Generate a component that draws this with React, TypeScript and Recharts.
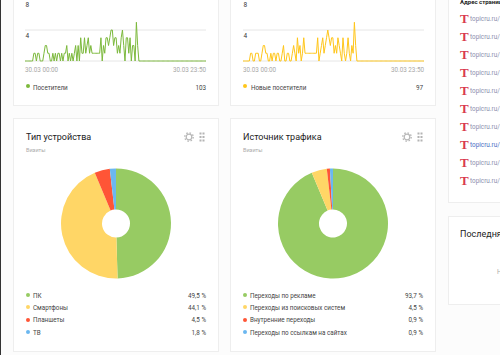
import { CartesianGrid, Cell, Line, LineChart, Pie, PieChart, XAxis, YAxis } from "recharts"

const visitors = [
  0, 0, 0, 0, 0, 0, 0, 1, 1, 0, 1, 1, 0, 0, 0, 1, 2, 2, 1, 1, 0, 0, 1, 0,
  1, 0, 1, 1, 0, 1, 0, 1, 1, 2, 0, 1, 0, 1, 0, 1, 2, 0, 2, 0, 3, 1, 1, 3,
  1, 2, 3, 1, 2, 1, 1, 1, 1, 1, 1, 1, 3, 0, 2, 1, 3, 3, 2, 3, 4, 4, 2, 3,
  3, 1, 2, 1, 3, 4, 2, 0, 3, 3, 1, 3, 0, 2, 2, 0, 5, 2, 0, 0, 0, 0, 0, 0,
  0, 0, 0, 0, 0, 0, 0, 0, 0, 0, 0, 0, 0, 0, 0, 0, 0, 0, 0, 0, 0, 0, 0, 0,
  0, 0, 0, 0, 0, 0, 0, 0, 0, 0, 0, 0, 0, 0, 0, 0, 0, 0, 0, 0, 0, 0, 0, 0,
]
const newVisitors = [
  0, 0, 0, 0, 0, 0, 1, 1, 0, 0, 1, 1, 1, 0, 0, 1, 2, 2, 1, 1, 0, 0, 1, 0,
  1, 1, 0, 1, 1, 0, 0, 1, 2, 0, 0, 1, 1, 0, 0, 1, 2, 1, 0, 3, 1, 2, 0, 1,
  3, 1, 1, 1, 1, 1, 1, 1, 1, 1, 1, 3, 0, 1, 2, 3, 1, 2, 3, 4, 3, 2, 3, 3,
  1, 2, 1, 3, 2, 1, 0, 3, 1, 0, 1, 3, 1, 0, 2, 1, 5, 2, 0, 0, 0, 0, 0, 0,
  0, 0, 0, 0, 0, 0, 0, 0, 0, 0, 0, 0, 0, 0, 0, 0, 0, 0, 0, 0, 0, 0, 0, 0,
  0, 0, 0, 0, 0, 0, 0, 0, 0, 0, 0, 0, 0, 0, 0, 0, 0, 0, 0, 0, 0, 0, 0, 0,
]
const timeLabels = ["30.03 00:00", "30.03 23:50"]
const yTicks = [0, 4, 8]

const deviceNames = ["ПК", "Смартфоны", "Планшеты", "ТВ"]
const deviceValues = [49.5, 44.1, 4.5, 1.8]
const deviceLabels = ["49,5 %", "44,1 %", "4,5 %", "1,8 %"]

const sourceNames = ["Переходы по рекламе", "Переходы из поисковых систем", "Внутренние переходы", "Переходы по ссылкам на сайтах"]
const sourceValues = [93.7, 4.5, 0.9, 0.9]
const sourceLabels = ["93,7 %", "4,5 %", "0,9 %", "0,9 %"]

const pieColors = ["#97cb63", "#ffd666", "#ff5536", "#6bb7f0"]
const pageRows = [0, 1, 2, 3, 4, 5, 6, 7, 8, 9]

const font = "Roboto, sans-serif"

const Card = ({ left, top, width, height }: { left: number; top: number; width: number; height: number }) => (
  <div
    style={{
      position: "absolute",
      left,
      top,
      width,
      height,
      boxSizing: "border-box",
      background: "#fff",
      border: "1px solid #eeeeee",
    }}
  />
)

const Label = ({ left, top, size, color, children, right, weight }: any) => (
  <div
    style={{
      position: "absolute",
      left,
      right,
      top,
      fontFamily: font,
      fontSize: size,
      fontWeight: weight,
      color,
      lineHeight: "12px",
      whiteSpace: "nowrap",
    }}
  >
    {children}
  </div>
)

const Dot = ({ left, top, color }: { left: number; top: number; color: string }) => (
  <div style={{ position: "absolute", left, top, width: 4, height: 4, borderRadius: 2, background: color }} />
)

const YTick = ({ x, y, payload }: any) =>
  payload.value === 0 ? null : (
    <text x={x + 0.5} y={y + 7.5} fontFamily={font} fontSize={6.5} fill="#333">
      {payload.value}
    </text>
  )

const XTick = ({ x, y, payload, index }: any) => (
  <text x={x} y={y + 3} textAnchor={index === 0 ? "start" : "end"} fontFamily={font} fontSize={6.3} fill="#a8a8a8">
    {timeLabels[payload.value === 0 ? 0 : 1]}
  </text>
)

const Trend = ({ left, values, color }: { left: number; values: number[]; color: string }) => {
  const rows = values.map((value, slot) => ({ slot, value }))
  return (
    <div style={{ position: "absolute", left, top: -6 }}>
      <LineChart width={195} height={85} data={rows} margin={{ top: 5, right: 9, bottom: 0, left: 4 }}>
        <CartesianGrid vertical={false} stroke="#e6e6e6" />
        <XAxis
          dataKey="slot"
          type="number"
          domain={[0, 143]}
          ticks={[0, 143]}
          interval={0}
          height={18}
          axisLine={false}
          tickLine={false}
          tick={<XTick />}
        />
        <YAxis
          domain={[0, 8]}
          ticks={yTicks}
          interval={0}
          width={1}
          axisLine={false}
          tickLine={false}
          tickSize={0}
          tickMargin={0}
          tick={<YTick />}
        />
        <Line dataKey="value" stroke={color} strokeWidth={1} dot={false} isAnimationActive={false} />
      </LineChart>
    </div>
  )
}

const Donut = ({ left, values }: { left: number; values: number[] }) => {
  const rows = values.map((value, i) => ({ value, name: i }))
  return (
    <div style={{ position: "absolute", left, top: 163 }}>
      <PieChart width={120} height={120} margin={{ top: 0, right: 0, bottom: 0, left: 0 }}>
        <Pie
          data={rows}
          dataKey="value"
          cx={60}
          cy={60.5}
          innerRadius={14}
          outerRadius={55}
          startAngle={90}
          endAngle={-270}
          stroke="none"
          isAnimationActive={false}
        >
          {rows.map((row) => (
            <Cell key={row.name} fill={pieColors[row.name]} />
          ))}
        </Pie>
      </PieChart>
    </div>
  )
}

const Icons = ({ left }: { left: number }) => (
  <svg style={{ position: "absolute", left, top: 132 }} width={24} height={10}>
    <circle cx={5} cy={5} r={2.8} fill="none" stroke="#b8b8b8" strokeWidth={1.2} />
    <circle cx={5} cy={5} r={4.2} fill="none" stroke="#b8b8b8" strokeWidth={1.4} strokeDasharray="1.5 1.8" />
    {[1.5, 5, 8.5].map((y) => (
      <g key={y}>
        <rect x={15.5} y={y - 1} width={2} height={2} fill="#b4b4b4" />
        <rect x={18.5} y={y - 1} width={2} height={2} fill="#b4b4b4" />
      </g>
    ))}
  </svg>
)

const Legend = ({ left, names, labels }: { left: number; names: string[]; labels: string[] }) => (
  <>
    {names.map((name, i) => (
      <div key={name}>
        <Dot left={left} top={293 + i * 12.4} color={pieColors[i]} />
        <Label left={left + 7} top={289.5 + i * 12.4} size={6.3} color="#444">
          {name}
        </Label>
        <Label right={500 - (left + 180)} top={289.5 + i * 12.4} size={6.3} color="#444">
          {labels[i]}
        </Label>
      </div>
    ))}
  </>
)

export default function App() {
  return (
    <div
      style={{
        position: "absolute",
        left: 0,
        top: 0,
        width: 500,
        height: 355,
        overflow: "hidden",
        background: "#fcfcfc",
      }}
    >
      <div style={{ position: "absolute", left: 0, top: 0, width: 1, height: 355, background: "#333" }} />

      <Card left={13} top={-20} width={206} height={126} />
      <Card left={230} top={-20} width={206} height={126} />
      <Card left={13} top={118} width={206} height={234} />
      <Card left={230} top={118} width={206} height={234} />
      <Card left={448} top={-20} width={80} height={223} />
      <Card left={448} top={216} width={80} height={89} />

      <Trend left={20} values={visitors} color="#7cb93c" />
      <Trend left={238} values={newVisitors} color="#ffc61a" />

      <Dot left={26} top={84} color="#7cb93c" />
      <Label left={33} top={81.5} size={6.3} color="#444">Посетители</Label>
      <Label right={294} top={81.5} size={6.3} color="#444">103</Label>

      <Dot left={243} top={84} color="#ffc61a" />
      <Label left={251} top={81.5} size={6.3} color="#444">Новые посетители</Label>
      <Label right={77} top={81.5} size={6.3} color="#444">97</Label>

      <Label left={26} top={131} size={9} color="#222">Тип устройства</Label>
      <Label left={26} top={144} size={5.5} color="#aaa">Визиты</Label>
      <Label left={243} top={131} size={9} color="#222">Источник трафика</Label>
      <Label left={243} top={144} size={5.5} color="#aaa">Визиты</Label>
      <Icons left={184} />
      <Icons left={402} />

      <Donut left={56} values={deviceValues} />
      <Donut left={273} values={sourceValues} />

      <Legend left={26} names={deviceNames} labels={deviceLabels} />
      <Legend left={243} names={sourceNames} labels={sourceLabels} />

      <Label left={460} top={-4} size={6} weight={700} color="#222">Адрес страницы</Label>
      {pageRows.map((row) => (
        <div key={row}>
          <div
            style={{
              position: "absolute",
              left: 460,
              top: 12 + row * 18,
              fontFamily: "'Liberation Serif', serif",
              fontWeight: 700,
              fontSize: 13,
              lineHeight: "14px",
              color: "#d93a4e",
            }}
          >
            T
          </div>
          <Label left={470} top={13 + row * 18} size={6.4} color={row === 7 ? "#4a6fc4" : "#8d8fae"}>
            topicru.ru/
          </Label>
        </div>
      ))}

      <Label left={460} top={228} size={9} color="#222">Последняя</Label>
      <Label left={497} top={266} size={6.4} color="#aaa">Н</Label>
    </div>
  )
}
